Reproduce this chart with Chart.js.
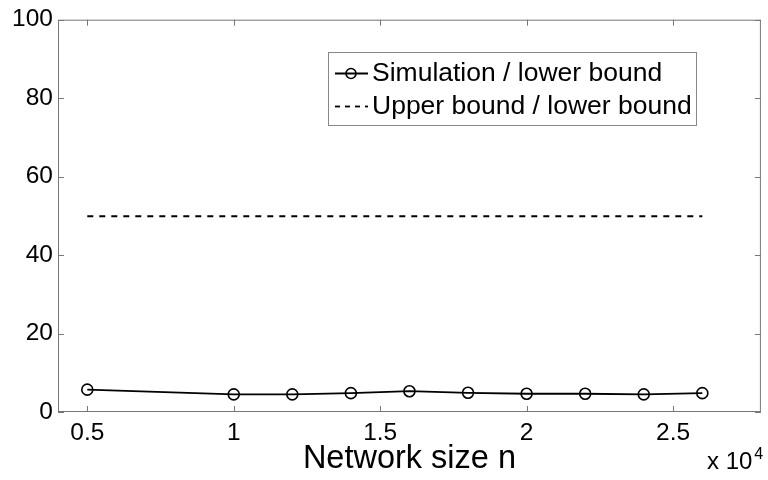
<!DOCTYPE html>
<html>
<head>
<meta charset="utf-8">
<script src="https://cdn.jsdelivr.net/npm/chart.js@4/dist/chart.umd.min.js"></script>
<style>
  body { margin: 0; background: #fff; }
  canvas { display: block; }
</style>
</head>
<body>
<canvas id="canvas" width="768" height="480"></canvas>
<script>
// network size n (x 10^4)
var networkSize = [0.5, 1.0, 1.2, 1.4, 1.6, 1.8, 2.0, 2.2, 2.4, 2.6];
var simRatio = [5.7, 4.5, 4.5, 4.8, 5.3, 4.9, 4.65, 4.65, 4.5, 4.8];
var upperRatio = [49.9, 49.9, 49.9, 49.9, 49.9, 49.9, 49.9, 49.9, 49.9, 49.9];
var yTicks = [0, 20, 40, 60, 80, 100];
var xTicks = [0.5, 1, 1.5, 2, 2.5];

var fontFamily = '"Liberation Sans", Arial, Helvetica, sans-serif';

function toPoints(xs, ys) {
    return xs.map(function (x, i) { return { x: x, y: ys[i] }; });
}

// MATLAB style box with inward ticks
var boxPlugin = {
    id: 'box',
    afterDatasetsDraw: function (chart) {
        var ctx = chart.ctx;
        var a = chart.chartArea;
        var xs = chart.scales.x, ys = chart.scales.y;
        ctx.save();
        ctx.strokeStyle = '#777';
        ctx.lineWidth = 1;
        ctx.strokeRect(a.left + 0.5, a.top + 0.5, a.right - a.left - 1, a.bottom - a.top - 1);
        ctx.beginPath();
        xs.ticks.forEach(function (t) {
            var px = Math.round(xs.getPixelForValue(t.value)) + 0.5;
            ctx.moveTo(px, a.bottom); ctx.lineTo(px, a.bottom - 6);
            ctx.moveTo(px, a.top); ctx.lineTo(px, a.top + 6);
        });
        ys.ticks.forEach(function (t) {
            var py = Math.round(ys.getPixelForValue(t.value)) + 0.5;
            ctx.moveTo(a.left, py); ctx.lineTo(a.left + 6, py);
            ctx.moveTo(a.right, py); ctx.lineTo(a.right - 6, py);
        });
        ctx.stroke();
        ctx.restore();
    },
    afterDraw: function (chart) {
        var ctx = chart.ctx;
        ctx.save();
        ctx.fillStyle = '#000';
        ctx.textBaseline = 'alphabetic';
        ctx.textAlign = 'left';
        ctx.font = '24px ' + fontFamily;
        ctx.fillText('x 10', 707, 469);
        var w = ctx.measureText('x 10').width;
        ctx.font = '16px ' + fontFamily;
        ctx.fillText('4', 707 + w + 2, 459);
        ctx.restore();
    }
};

// legend box inside the axes, top right
var legendPlugin = {
    id: 'boxLegend',
    afterDraw: function (chart) {
        var ctx = chart.ctx;
        var left = 328, top = 52, right = 697, bottom = 126;
        var rows = [73, 106];
        ctx.save();
        ctx.fillStyle = '#fff';
        ctx.fillRect(left, top, right - left, bottom - top);
        ctx.strokeStyle = '#888';
        ctx.lineWidth = 1;
        ctx.strokeRect(left + 0.5, top + 0.5, right - left - 1, bottom - top - 1);
        chart.data.datasets.forEach(function (ds, i) {
            var y = rows[i] + 0.5;
            ctx.strokeStyle = ds.borderColor;
            ctx.lineWidth = ds.borderWidth;
            ctx.setLineDash(ds.borderDash ? [5, 5] : []);
            ctx.beginPath();
            ctx.moveTo(335, y); ctx.lineTo(368, y);
            ctx.stroke();
            ctx.setLineDash([]);
            if (ds.pointRadius > 0) {
                ctx.lineWidth = ds.pointBorderWidth;
                ctx.beginPath();
                ctx.arc(351, y, 5, 0, Math.PI * 2);
                ctx.stroke();
            }
            ctx.fillStyle = '#000';
            ctx.font = '26.5px ' + fontFamily;
            ctx.textBaseline = 'middle';
            ctx.textAlign = 'left';
            ctx.fillText(ds.label, 372, rows[i] + 1);
        });
        ctx.restore();
    }
};

var ctx = document.getElementById('canvas').getContext('2d');
var chart = new Chart(ctx, {
    type: 'line',
    data: {
        datasets: [
            {
                label: 'Simulation / lower bound',
                data: toPoints(networkSize, simRatio),
                borderColor: '#000',
                borderWidth: 1.8,
                pointRadius: 5.5,
                pointBorderWidth: 1.6,
                pointBorderColor: '#000',
                pointBackgroundColor: 'rgba(0,0,0,0)',
                tension: 0
            },
            {
                label: 'Upper bound / lower bound',
                data: toPoints(networkSize, upperRatio),
                borderColor: '#000',
                borderWidth: 1.8,
                borderDash: [6, 6],
                pointRadius: 0,
                tension: 0
            }
        ]
    },
    options: {
        responsive: false,
        animation: false,
        layout: { padding: { top: 16, right: 2, left: 0, bottom: 0 } },
        plugins: {
            legend: { display: false },
            tooltip: { enabled: false }
        },
        scales: {
            x: {
                type: 'linear',
                min: 0.4,
                max: 2.8,
                afterFit: function (s) { s.height = 68; },
                afterBuildTicks: function (s) {
                    s.ticks = xTicks.map(function (v) { return { value: v }; });
                },
                grid: { display: false, drawTicks: false },
                border: { display: false },
                ticks: {
                    padding: 7,
                    color: '#000',
                    font: { family: fontFamily, size: 24.5 },
                    callback: function (v) { return String(+v.toFixed(1)); }
                },
                title: {
                    display: true,
                    text: 'Network size n',
                    color: '#000',
                    font: { family: fontFamily, size: 32.5, lineHeight: 1.2 },
                    padding: { top: 0, bottom: 1 }
                }
            },
            y: {
                min: 0,
                max: 100,
                afterFit: function (s) { s.width = 58; },
                afterBuildTicks: function (s) {
                    s.ticks = yTicks.map(function (v) { return { value: v }; });
                },
                grid: { display: false, drawTicks: false },
                border: { display: false },
                ticks: {
                    padding: 5,
                    color: '#000',
                    font: { family: fontFamily, size: 24.5 }
                }
            }
        }
    },
    plugins: [boxPlugin, legendPlugin]
});
</script>
</body>
</html>
